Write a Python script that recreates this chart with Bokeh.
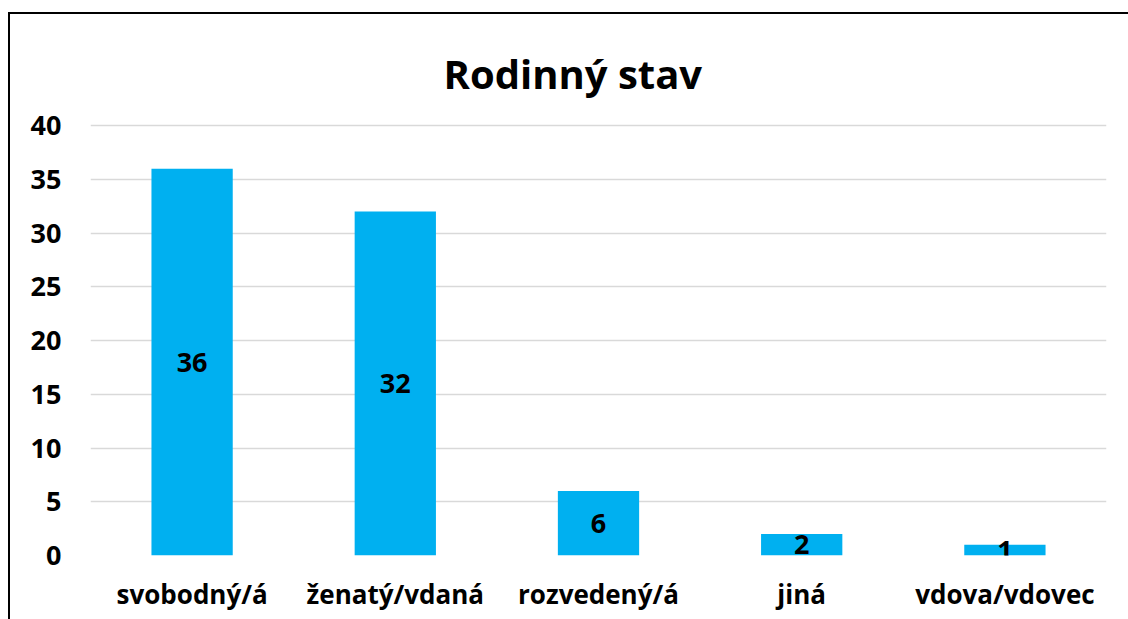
from bokeh.plotting import figure
from bokeh.models import ColumnDataSource, LabelSet, FactorRange, Range1d
from bokeh.core.properties import value
from bokeh.embed import file_html
from bokeh.resources import INLINE

categories = ["svobodný/á", "ženatý/vdaná", "rozvedený/á", "jiná", "vdova/vdovec"]
values = [36, 32, 6, 2, 1]
y_ticks = [0, 5, 10, 15, 20, 25, 30, 35, 40]

FONT = "Open Sans"
BAR = "#00B0F0"

src = ColumnDataSource(dict(
    cat=categories,
    val=values,
    mid=[v / 2 for v in values],
    txt=[str(v) for v in values],
))

p = figure(
    x_range=FactorRange(*categories, range_padding=0),
    y_range=Range1d(0, 40.2),
    width=1120, height=607,
    output_backend="svg", toolbar_location=None,
    min_border_left=80, min_border_right=24, min_border_top=109, min_border_bottom=66,
)
p.margin = (12, 0, 0, 8)
p.styles = {"border-left": "2px solid black", "border-top": "2px solid black",
            "box-sizing": "border-box"}

p.vbar(x="cat", top="val", width=0.4, source=src, color=BAR, line_color=None)

labels = LabelSet(x="cat", y="mid", text="txt", source=src,
                  text_align="center", text_baseline="middle",
                  text_font=value(FONT), text_font_style="bold", text_font_size="27px",
                  text_color="black")
p.add_layout(labels)

p.title.text = "Rodinný stav"
p.title.align = "left"
p.title.offset = 353
p.title.text_font = FONT
p.title.text_font_style = "bold"
p.title.text_font_size = "40px"
p.title.text_color = "black"
p.title.standoff = 46

p.yaxis.ticker = y_ticks
p.yaxis.axis_line_color = None
p.yaxis.major_tick_line_color = None
p.yaxis.minor_tick_line_color = None
p.yaxis.major_label_text_font = FONT
p.yaxis.major_label_text_font_style = "bold"
p.yaxis.major_label_text_font_size = "27px"
p.yaxis.major_label_text_color = "black"
p.yaxis.major_label_standoff = 23

p.xaxis.axis_line_color = None
p.xaxis.major_tick_line_color = None
p.xaxis.major_label_text_font = FONT
p.xaxis.major_label_text_font_style = "bold"
p.xaxis.major_label_text_font_size = "26px"
p.xaxis.major_label_text_color = "black"
p.xaxis.major_label_standoff = 14

p.xgrid.grid_line_color = None
p.ygrid.grid_line_color = "#D9D9D9"
p.ygrid.grid_line_width = 1.5
p.outline_line_color = None

open("out.html", "w").write(file_html(p, INLINE))
